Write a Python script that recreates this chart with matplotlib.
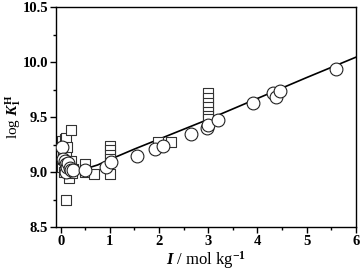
import matplotlib
matplotlib.use('Agg')
import matplotlib.pyplot as plt
from matplotlib.ticker import MultipleLocator

# 实验数据 (方块)
sq_I = [0.02, 0.03, 0.04, 0.05, 0.06, 0.08, 0.10, 0.10, 0.10, 0.12, 0.13, 0.15, 0.16, 0.18, 0.20, 0.20, 0.22, 0.25,
        0.50, 0.50, 0.67,
        1.0, 1.0, 1.0, 1.0, 1.0,
        1.98, 2.25,
        3.0, 3.0, 3.0, 3.0, 3.0, 3.0, 3.0]
sq_logK = [9.28, 9.05, 9.12, 9.18, 9.00, 9.30, 9.31, 9.15, 8.75, 9.02, 9.23, 9.10, 8.95, 9.05, 9.38, 9.10, 8.99, 9.03,
           9.07, 9.005, 8.98,
           9.24, 9.20, 9.16, 9.12, 8.98,
           9.27, 9.27,
           9.72, 9.67, 9.63, 9.59, 9.55, 9.51, 9.48]

# 实验数据 (圆圈)
ci_I = [0.03, 0.05, 0.08, 0.10, 0.10, 0.12, 0.15, 0.18, 0.20, 0.25,
        0.50, 0.93, 1.03, 1.56, 1.92, 2.09, 2.64, 2.97, 3.0, 3.2,
        3.91, 4.31, 4.38, 4.46, 5.60]
ci_logK = [9.23, 9.12, 9.10, 9.07, 9.00, 9.05, 9.08, 9.04, 9.02, 9.02,
           9.02, 9.05, 9.09, 9.15, 9.21, 9.24, 9.35, 9.40, 9.43, 9.47,
           9.63, 9.72, 9.68, 9.74, 9.94]

# 拟合曲线
fit_I = [0.01, 0.03, 0.05, 0.1, 0.2, 0.3, 0.5, 0.75, 1.0, 1.5, 2.0, 2.5, 3.0, 4.0, 5.0, 6.0]
fit_logK = [9.30, 9.21, 9.17, 9.11, 9.05, 9.03, 9.03, 9.065, 9.115, 9.21, 9.30, 9.39, 9.48, 9.67, 9.86, 10.045]

plt.rcParams['font.family'] = ['Liberation Serif', 'DejaVu Serif']
plt.rcParams['font.weight'] = 'bold'
plt.rcParams['mathtext.fontset'] = 'custom'
plt.rcParams['mathtext.rm'] = 'Liberation Serif:bold'
plt.rcParams['mathtext.it'] = 'Liberation Serif:bold:italic'
plt.rcParams['mathtext.bf'] = 'Liberation Serif:bold'

fig = plt.figure(figsize=(3.6, 2.7), dpi=100)
ax = fig.add_axes([0.155, 0.159, 0.833, 0.814])

ax.plot(fit_I, fit_logK, color='black', linewidth=1.2, zorder=1)
ax.scatter(sq_I, sq_logK, marker='s', s=55, facecolors='white', edgecolors='#333333', linewidths=0.8, zorder=2)
ax.scatter(ci_I, ci_logK, marker='o', s=85, facecolors='white', edgecolors='#222222', linewidths=0.8, zorder=3)

ax.set_xlim(-0.1, 6.0)
ax.set_ylim(8.5, 10.5)
ax.xaxis.set_major_locator(MultipleLocator(1))
ax.xaxis.set_minor_locator(MultipleLocator(0.5))
ax.yaxis.set_major_locator(MultipleLocator(0.5))
ax.yaxis.set_minor_locator(MultipleLocator(0.25))
ax.tick_params(axis='both', which='major', labelsize=10.5, length=4, width=1, direction='out', pad=1.5)
ax.tick_params(axis='both', which='minor', length=2, width=1, direction='out')
ax.yaxis.set_major_formatter(plt.FormatStrFormatter('%.1f'))
for sp in ax.spines.values():
    sp.set_linewidth(1.0)

ax.set_xlabel(r'$\mathit{I}$ / mol kg$^{\mathrm{-1}}$', fontsize=12, labelpad=1)
ax.set_ylabel(r'log $\mathit{K}_{\mathrm{1}}^{\mathrm{H}}$', fontsize=11)
ax.yaxis.set_label_coords(-0.108, 0.5)

fig.savefig('out.png', dpi=100)
